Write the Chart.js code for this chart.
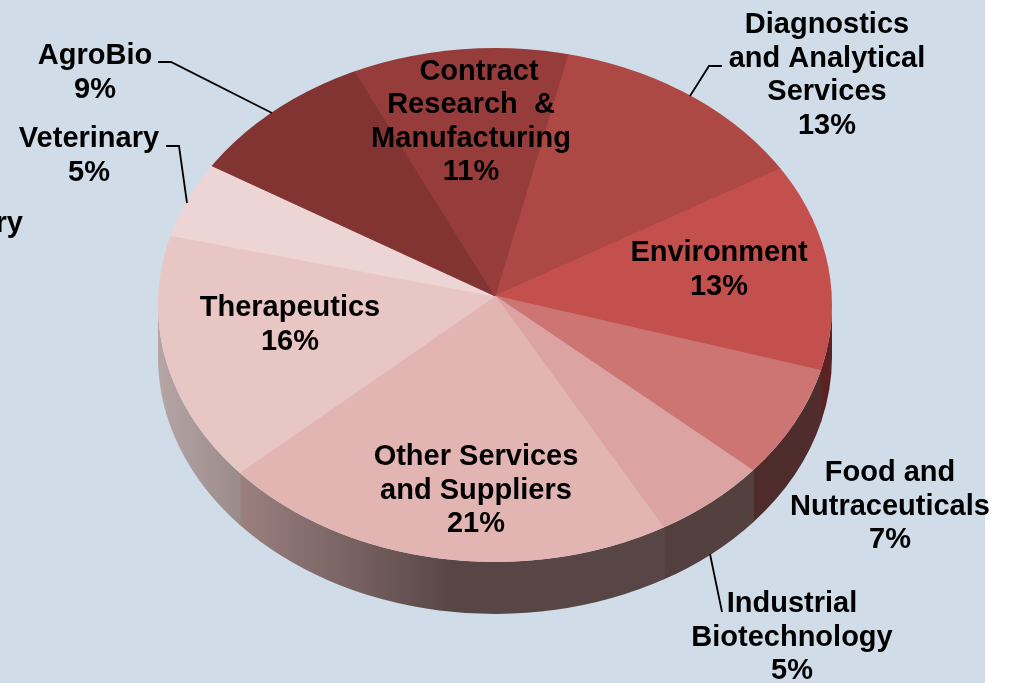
<!DOCTYPE html>
<html>
<head>
<meta charset="utf-8">
<title>Pie</title>
<style>
    html, body { margin: 0; padding: 0; background: #fff; overflow: hidden; }
    canvas { display: block; }
</style>
<script src="https://cdn.jsdelivr.net/npm/chart.js@4/dist/chart.umd.min.js"></script>
</head>
<body>
<canvas id="pie" width="1013" height="683"></canvas>
<script>
// Data, clockwise from the top (measured off the slices, labels show the rounded share)
var categories = ['Diagnostics and Analytical Services', 'Environment', 'Food and Nutraceuticals',
    'Industrial Biotechnology', 'Other Services and Suppliers', 'Therapeutics', 'Veterinary', 'AgroBio',
    'Contract Research & Manufacturing'];
var shares = [13, 13, 6.9, 5.4, 21.4, 15.5, 4.8, 9.3, 10.7];

// Face and wall colours, same order
var faceColors = ['#ae4845', '#c3504c', '#cc7572', '#dba3a1', '#e2b5b3', '#e8c6c4', '#eed5d5', '#823433', '#963d3b'];
var wallLeft = ['#5a2222', '#5a2222', '#4f2c2c', '#543f3f', '#9c8080', '#b5a5a5', '#b5a5a5', '#5a3030', '#5a3030'];
var wallRight = ['#5a2222', '#5a2222', '#502c2c', '#554040', '#584646', '#9a8a8a', '#9a8a8a', '#5a3030', '#5a3030'];

// Label text: [x, first line y, lines...]
var labelLines = [
    [827, 25, 'Diagnostics', 'and Analytical', 'Services', '13%'],
    [719, 253, 'Environment', '13%'],
    [890, 473, 'Food and', 'Nutraceuticals', '7%'],
    [792, 604, 'Industrial', 'Biotechnology', '5%'],
    [476, 457, 'Other Services', 'and Suppliers', '21%'],
    [290, 308, 'Therapeutics', '16%'],
    [89, 139, 'Veterinary', '5%'],
    [95, 56, 'AgroBio', '9%'],
    [471, 105, 'Research  &', 'Manufacturing', '11%']
];
var leaders = [
    [[158, 62], [171, 62], [272, 113]],
    [[166, 146], [179, 146], [187, 203]],
    [[722, 66], [709, 66], [690, 96]],
    [[722, 612], [710, 554]]
];

// Tilted pie geometry
var G = { cx: 495, cy: 305, rx: 337, ry: 257, depth: 52, apexX: 495, apexY: 296, tilt: 0.766, zoom: 1.1 };

// Where a slice boundary leaves the apex and hits the rim, as an ellipse angle
function rimAngle(a) {
    var dx = Math.cos(a), dy = Math.sin(a) * G.tilt, off = G.apexY - G.cy;
    var A = dx * dx / (G.rx * G.rx) + dy * dy / (G.ry * G.ry);
    var B = 2 * dy * off / (G.ry * G.ry);
    var C = off * off / (G.ry * G.ry) - 1;
    var s = (-B + Math.sqrt(B * B - 4 * A * C)) / (2 * A);
    return Math.atan2((s * dy + off) / G.ry, s * dx / G.rx);
}

function drawWall(chart) {
    var ctx = chart.ctx;
    chart.getDatasetMeta(0).data.forEach(function (arc, i) {
        var t1 = rimAngle(arc.startAngle), t2 = rimAngle(arc.endAngle);
        if (t2 < t1) t2 += Math.PI * 2;
        t1 = Math.max(t1 - 0.004, 0); // small overlap so no seam shows between walls
        t2 = Math.min(t2, Math.PI);
        if (t2 <= t1) return;
        var xa = G.cx + G.rx * Math.cos(t2), xb = G.cx + G.rx * Math.cos(t1);
        var grad = ctx.createLinearGradient(xa, 0, xb, 0);
        grad.addColorStop(0, wallLeft[i]);
        grad.addColorStop(i === 4 ? 0.5 : 1, wallRight[i]);
        grad.addColorStop(1, wallRight[i]);
        ctx.beginPath();
        ctx.ellipse(G.cx, G.cy, G.rx, G.ry, 0, t1, t2);
        ctx.ellipse(G.cx, G.cy + G.depth, G.rx, G.ry, 0, t2, t1, true);
        ctx.closePath();
        ctx.fillStyle = grad;
        ctx.fill();
    });
}

var tiltedPie = {
    id: 'tiltedPie',
    beforeDraw: function (chart) {
        var ctx = chart.ctx;
        ctx.fillStyle = '#d0dce8';
        ctx.fillRect(0, 0, 985, chart.height);
    },
    beforeDatasetsDraw: function (chart) {
        var ctx = chart.ctx, first = chart.getDatasetMeta(0).data[0];
        drawWall(chart);
        ctx.save();
        ctx.beginPath();
        ctx.ellipse(G.cx, G.cy, G.rx, G.ry, 0, 0, Math.PI * 2);
        ctx.clip();
        ctx.translate(G.apexX, G.apexY);
        ctx.scale(G.zoom, G.zoom * G.tilt);
        ctx.translate(-first.x, -first.y);
    },
    afterDatasetsDraw: function (chart) {
        var ctx = chart.ctx;
        ctx.restore();

        ctx.strokeStyle = '#000';
        ctx.lineWidth = 1.8;
        leaders.forEach(function (pts) {
            ctx.beginPath();
            pts.forEach(function (p, i) {
                if (i === 0) ctx.moveTo(p[0], p[1]);
                else ctx.lineTo(p[0], p[1]);
            });
            ctx.stroke();
        });

        ctx.fillStyle = '#000';
        ctx.font = 'bold 29px "Liberation Sans", Arial, sans-serif';
        ctx.textAlign = 'center';
        ctx.textBaseline = 'middle';
        labelLines.forEach(function (item) {
            item.slice(2).forEach(function (line, i) {
                ctx.fillText(line, item[0], item[1] + i * 33.7);
            });
        });
        ctx.fillText('Contract', 479, 72);
        // cut off by the left edge in the original
        ctx.textAlign = 'right';
        ctx.fillText('ry', 23, 224);
    }
};

new Chart(document.getElementById('pie'), {
    type: 'pie',
    data: {
        labels: categories,
        datasets: [{ data: shares, backgroundColor: faceColors, borderColor: faceColors, borderWidth: 1 }]
    },
    options: {
        responsive: false,
        animation: false,
        radius: 320,
        rotation: 13,
        layout: { padding: 0 },
        plugins: { legend: { display: false }, tooltip: { enabled: false } }
    },
    plugins: [tiltedPie]
});
</script>
</body>
</html>
